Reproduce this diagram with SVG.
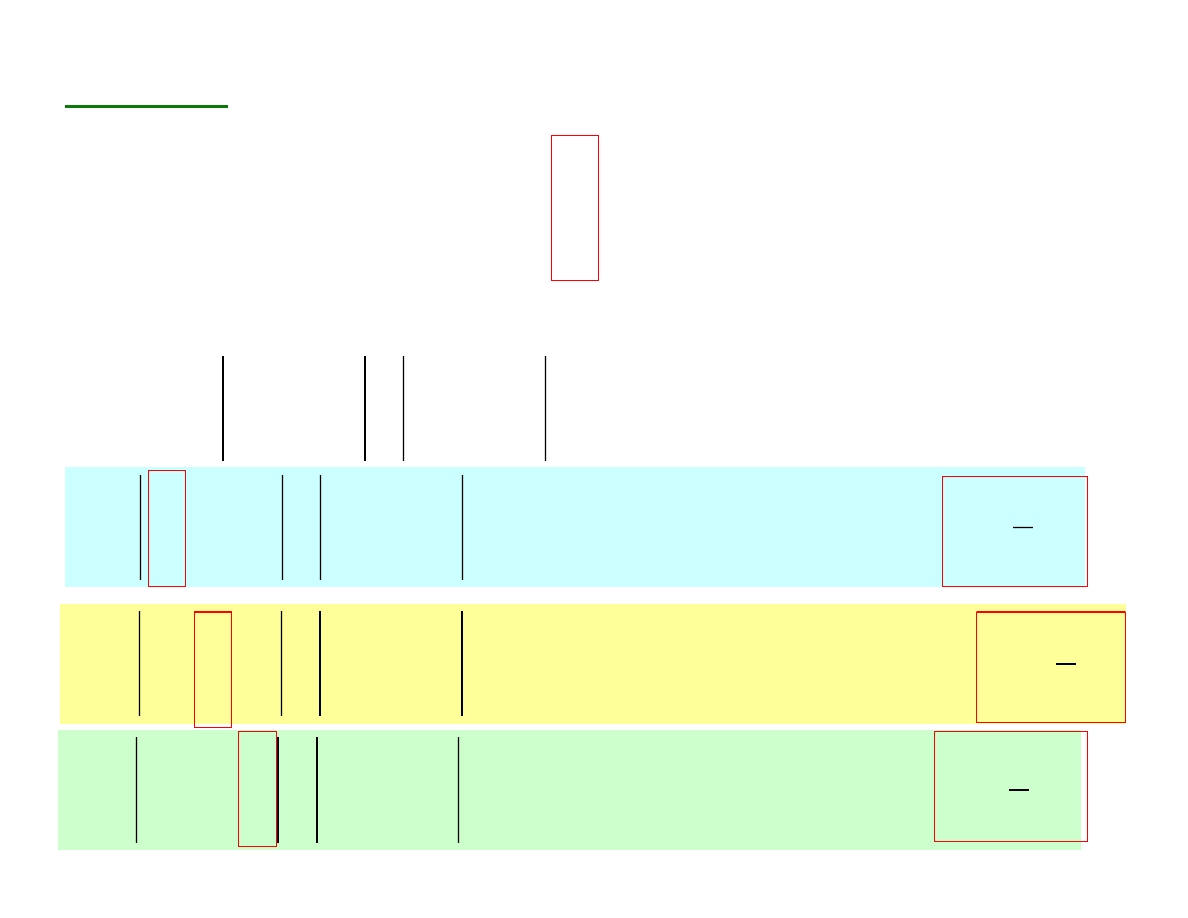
<svg xmlns="http://www.w3.org/2000/svg" width="1188" height="918" viewBox="0 0 1188 918">
<style>
.box{fill:none;stroke:#ff0000;stroke-width:1}
.ln{stroke:#000;stroke-width:1.3;fill:none}
.thk{stroke:#000;stroke-width:2;fill:none}
</style>
<rect x="0" y="0" width="1188" height="918" fill="#ffffff"/>
<g id="title-rule"><line x1="65" y1="106.5" x2="228" y2="106.5" stroke="#0a7a0a" stroke-width="3"/></g>
<g id="top-box"><rect class="box" x="551.5" y="135.5" width="47" height="145"/></g>
<g id="band-cyan">
<rect x="65" y="467" width="1020" height="120" fill="#ccffff"/>
<rect class="box" x="148.5" y="470.5" width="37" height="116"/>
<rect class="box" x="942.5" y="476.5" width="145" height="110"/>
<line class="ln" x1="1013" y1="527.5" x2="1033" y2="527.5"/>
</g>
<g id="band-yellow">
<rect x="60" y="604" width="1066" height="120" fill="#ffff99"/>
<rect class="box" x="194.5" y="611.5" width="37" height="116"/>
<line x1="194.5" y1="612" x2="231.5" y2="612" stroke="#ff0000" stroke-width="2"/>
<rect class="box" x="976.5" y="612.5" width="149" height="110"/>
<line x1="976.5" y1="612" x2="1125.5" y2="612" stroke="#ff0000" stroke-width="2"/>
<line class="thk" x1="1056" y1="664" x2="1076" y2="664"/>
</g>
<g id="band-green">
<rect x="58" y="730" width="1023" height="120" fill="#ccffcc"/>
<rect class="box" x="238.5" y="731.5" width="38" height="115"/>
<rect class="box" x="934.5" y="731.5" width="153" height="110"/>
<line class="thk" x1="1009" y1="790" x2="1029" y2="790"/>
</g>
<g id="connectors">
<line class="thk" x1="223" y1="356" x2="223" y2="461"/>
<line class="thk" x1="365" y1="356" x2="365" y2="461"/>
<line class="ln" x1="403.5" y1="356" x2="403.5" y2="461"/>
<line class="ln" x1="545.5" y1="356" x2="545.5" y2="461"/>
<line class="ln" x1="140.5" y1="475" x2="140.5" y2="580"/>
<line class="ln" x1="282.5" y1="475" x2="282.5" y2="580"/>
<line class="ln" x1="320.5" y1="475" x2="320.5" y2="580"/>
<line class="ln" x1="462.5" y1="475" x2="462.5" y2="580"/>
<line class="ln" x1="139.5" y1="611" x2="139.5" y2="716"/>
<line class="ln" x1="281.5" y1="611" x2="281.5" y2="716"/>
<line class="thk" x1="320" y1="611" x2="320" y2="716"/>
<line class="thk" x1="462" y1="611" x2="462" y2="716"/>
<line class="ln" x1="136.5" y1="737" x2="136.5" y2="843"/>
<line class="thk" x1="278" y1="737" x2="278" y2="843"/>
<line class="thk" x1="317" y1="737" x2="317" y2="843"/>
<line class="ln" x1="458.5" y1="737" x2="458.5" y2="843"/>
</g>
</svg>
